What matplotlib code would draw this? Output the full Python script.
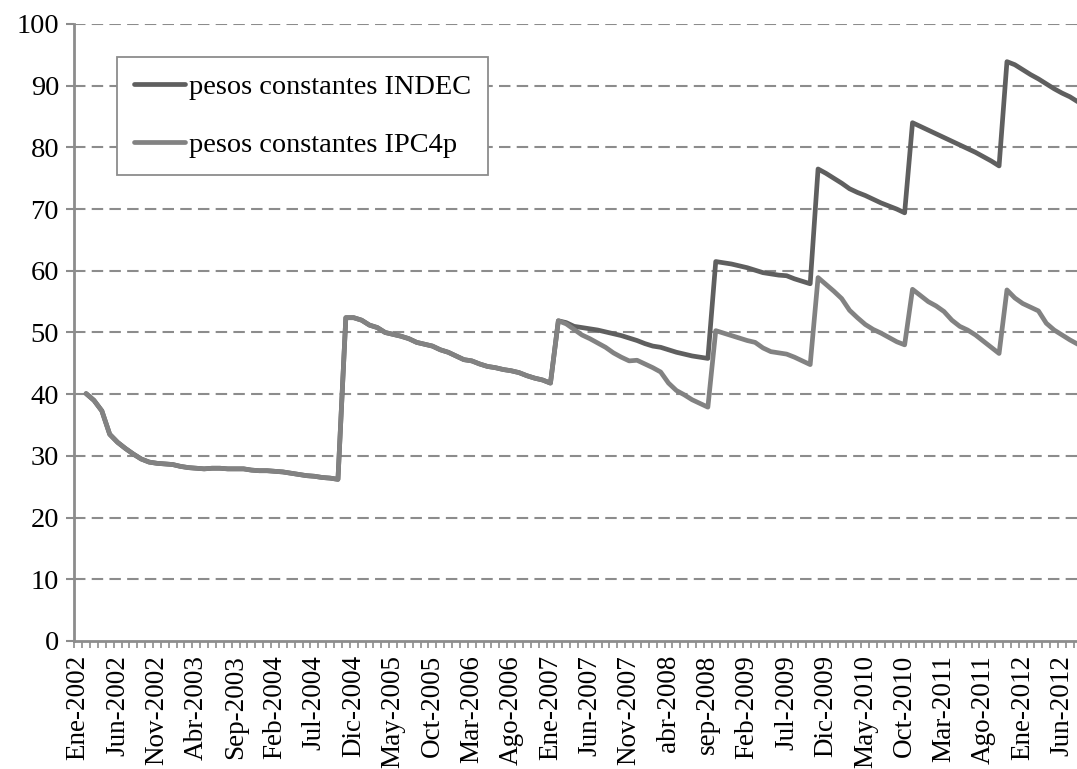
import matplotlib.pyplot as plt
import matplotlib.ticker as ticker
import numpy as np

# months Ene-2002 .. Ago-2012 (index 0 = Ene-2002, no value)
meses = ["Ene", "Feb", "Mar", "Abr", "May", "Jun", "Jul", "Ago", "Sep", "Oct", "Nov", "Dic"]
n_meses = 128

# pesos constantes INDEC
indec = [
    np.nan,
    40.1, 39.0, 37.3, 33.5, 32.2, 31.2, 30.3, 29.5, 29.0, 28.8,
    28.7, 28.6, 28.3, 28.1, 28.0, 27.9, 28.0, 28.0, 27.9, 27.9,
    27.9, 27.7, 27.6, 27.6, 27.5, 27.4, 27.2, 27.0, 26.8, 26.7,
    26.5, 26.4, 26.2,
    52.4, 52.4, 52.0, 51.2, 50.8, 50.0, 49.7, 49.4, 49.0, 48.4,
    48.1, 47.8, 47.2, 46.8, 46.2, 45.6, 45.4, 44.9, 44.5, 44.3,
    44.0, 43.8, 43.5, 43.0, 42.6, 42.3, 41.8,
    51.9, 51.6, 51.0, 50.8, 50.6, 50.4, 50.1, 49.8, 49.5, 49.1,
    48.7, 48.2, 47.8, 47.6, 47.2, 46.8, 46.5, 46.2, 46.0, 45.8,
    61.5, 61.3, 61.1, 60.8, 60.5, 60.1, 59.7, 59.5, 59.3, 59.2,
    58.7, 58.3, 57.9,
    76.5, 75.8, 75.0, 74.2, 73.3, 72.7, 72.2, 71.6, 71.0, 70.5,
    70.0, 69.4,
    84.0, 83.4, 82.8, 82.2, 81.6, 81.0, 80.4, 79.8, 79.2, 78.5,
    77.8, 77.0,
    93.9, 93.4, 92.6, 91.8, 91.1, 90.3, 89.5, 88.8, 88.2, 87.4,
]

# pesos constantes IPC4p (same as INDEC up to Ene-2007)
ipc4p = indec[:61] + [
    51.9, 51.4, 50.5, 49.6, 49.0, 48.3, 47.6, 46.7, 46.0, 45.4,
    45.5, 44.9, 44.3, 43.6, 41.8, 40.6, 39.9, 39.1, 38.5, 37.9,
    50.3, 49.9, 49.5, 49.1, 48.7, 48.4, 47.5, 46.9, 46.7, 46.5,
    46.0, 45.4, 44.8,
    58.9, 57.8, 56.7, 55.5, 53.6, 52.4, 51.3, 50.5, 49.9, 49.2,
    48.5, 48.0,
    57.0, 56.0, 55.0, 54.3, 53.4, 52.0, 51.0, 50.4, 49.6, 48.6,
    47.6, 46.6,
    56.9, 55.6, 54.7, 54.1, 53.5, 51.5, 50.4, 49.6, 48.8, 48.1,
]

etiquetas = []
for i in range(n_meses):
    anio = 2002 + i // 12
    m = meses[i % 12]
    if anio == 2008 and m in ("Abr", "Sep"):
        m = m.lower()
    etiquetas.append(f"{m}-{anio}")

plt.rcParams["font.family"] = ["Liberation Serif", "DejaVu Serif"]

x = np.arange(n_meses)
fig = plt.figure(figsize=(10.77, 7.69), dpi=100)
ax = fig.add_axes([74.3 / 1077, 128 / 769, 1 - 74.3 / 1077, 617 / 769])

grid_col = "#8c8c8c"
for v in range(10, 101, 10):
    ax.axhline(v, color=grid_col, linewidth=1.5, linestyle=(0, (5.5, 3)), zorder=1)

ax.plot(x, indec, color="#5f5f5f", linewidth=3.4, solid_capstyle="round",
        solid_joinstyle="round", label="pesos constantes INDEC", zorder=3)
ax.plot(x, ipc4p, color="#828282", linewidth=3.4, solid_capstyle="round",
        solid_joinstyle="round", label="pesos constantes IPC4p", zorder=4)

ax.set_xlim(-0.5, 126.9)
ax.set_ylim(0, 100)

ax.set_yticks(range(0, 101, 10))
ax.tick_params(axis="y", length=6, width=1.5, color=grid_col, pad=5, labelsize=20.5)

ax.set_xticks(x[::5])
ax.set_xticklabels(etiquetas[::5], rotation=90, fontsize=19.5)
ax.xaxis.set_minor_locator(ticker.FixedLocator(np.arange(-0.5, n_meses, 1)))
ax.tick_params(axis="x", which="major", length=0, pad=10)
ax.tick_params(axis="x", which="minor", length=5, width=1.2, color=grid_col)

for s in ("top", "right"):
    ax.spines[s].set_visible(False)
for s in ("left", "bottom"):
    ax.spines[s].set_color(grid_col)
    ax.spines[s].set_linewidth(2)

leg = ax.legend(loc="upper left", bbox_to_anchor=(0.0426, 0.9465), borderaxespad=0,
                fontsize=20.4, handlelength=1.8, handletextpad=0.15, labelspacing=1.15,
                borderpad=0.6, fancybox=False, framealpha=1, edgecolor=grid_col)
leg.get_frame().set_linewidth(1.3)

fig.savefig("out.png", dpi=100)
